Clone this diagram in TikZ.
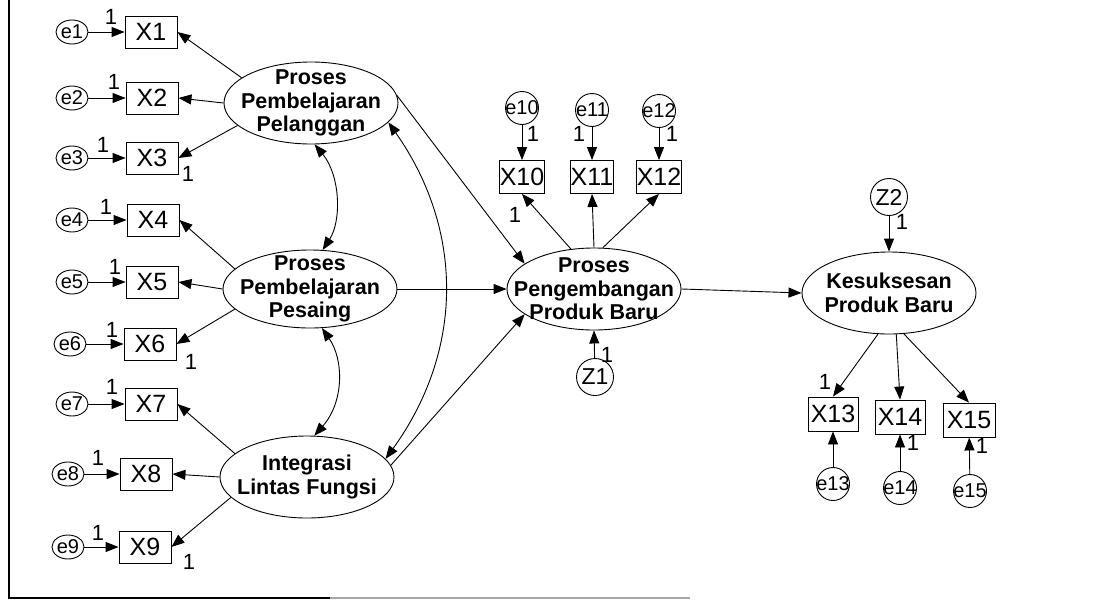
\documentclass[tikz,border=0pt]{standalone}
\usepackage{fontspec}
\setmainfont{Liberation Sans}
\usetikzlibrary{shapes.geometric,arrows.meta}

\begin{document}
\begin{tikzpicture}[x=1pt,y=-1pt,
  line width=0.9pt,
  >={Triangle[length=13pt,width=10pt]},
  latent/.style={draw, ellipse, minimum width=174pt, minimum height=82pt,
    inner xsep=-22pt, inner ysep=-9pt, align=center,
    font=\fontsize{21.5}{23.5}\selectfont\bfseries},
  obs/.style={draw, rectangle, minimum width=52pt, minimum height=32pt,
    inner sep=0pt, font=\fontsize{25}{25}\selectfont},
  err/.style={draw, ellipse, minimum width=32pt, minimum height=24pt,
    inner sep=-3pt, font=\fontsize{20}{20}\selectfont},
  errc/.style={draw, circle, minimum size=33pt, inner sep=-4pt,
    font=\fontsize{20}{20}\selectfont},
  dist/.style={draw, circle, minimum size=37pt, inner sep=0pt,
    font=\fontsize{23}{23}\selectfont},
  one/.style={font=\fontsize{22}{22}\selectfont, inner sep=0pt},
  reg/.style={->},
  cov/.style={<->},
]
\useasboundingbox (0,0) rectangle (1110,608);

% frame
\draw[line width=1.3pt] (9,0) -- (9,598) -- (330,598);
\draw[line width=1.3pt, black!35] (330,598) -- (690,598);

% latent variables
\node[latent] (ppp) at (311,103) {Proses\\Pembelajaran\\Pelanggan};
\node[latent, minimum height=78pt] (ppes) at (310,289) {Proses\\Pembelajaran\\Pesaing};
\node[latent] (intlf) at (307,477) {Integrasi\\Lintas Fungsi};
\node[latent] (ppb) at (594,289) {Proses\\Pengembangan\\Produk Baru};
\node[latent] (kpb) at (889,293) {Kesuksesan\\Produk Baru};

% left indicators and their errors
\node[obs] (x1) at (151,32) {X1};   \node[err] (e1) at (72,32) {e1};
\node[obs] (x2) at (152,98) {X2};   \node[err] (e2) at (72,98) {e2};
\node[obs] (x3) at (152,158) {X3};  \node[err] (e3) at (72,158) {e3};
\node[obs] (x4) at (153,220) {X4};  \node[err] (e4) at (72,220) {e4};
\node[obs] (x5) at (152,282) {X5};  \node[err] (e5) at (72,282) {e5};
\node[obs] (x6) at (150,344) {X6};  \node[err] (e6) at (70,344) {e6};
\node[obs] (x7) at (151,404) {X7};  \node[err] (e7) at (72,404) {e7};
\node[obs] (x8) at (146,474) {X8};  \node[err] (e8) at (68,474) {e8};
\node[obs] (x9) at (145,547) {X9};  \node[err] (e9) at (68,547) {e9};

% indicators of product development
\node[obs, minimum width=42pt, minimum height=33pt] (x10) at (522,177) {X10};
\node[obs, minimum width=42pt, minimum height=33pt] (x11) at (592,177) {X11};
\node[obs, minimum width=42pt, minimum height=33pt] (x12) at (659,177) {X12};
\node[errc] (e10) at (522,108) {e10};
\node[errc] (e11) at (592,110) {e11};
\node[errc] (e12) at (659,111) {e12};

% indicators of new product success
\node[obs, minimum width=50pt, minimum height=34pt] (x13) at (833,414) {X13};
\node[obs, minimum width=50pt, minimum height=34pt] (x14) at (900,417) {X14};
\node[obs, minimum width=52pt, minimum height=34pt] (x15) at (969,420) {X15};
\node[errc] (e13) at (833,484) {e13};
\node[errc] (e14) at (900,488) {e14};
\node[errc] (e15) at (970,491) {e15};

% disturbances
\node[dist] (z1) at (595,377) {Z1};
\node[dist] (z2) at (889,197) {Z2};

% error paths
\foreach \i in {1,...,9} \draw[reg] (e\i) -- (x\i);
\foreach \i in {10,11,12} \draw[reg] (e\i) -- (x\i);
\foreach \i in {13,14,15} \draw[reg] (e\i) -- (x\i);
\draw[reg] (z1) -- (ppb.south);
\draw[reg] (z2) -- (kpb.north);

% loadings
\draw[reg] (ppp.160) -- (x1.east);
\draw[reg] (ppp.west) -- (x2.east);
\draw[reg] (ppp.197) -- (x3.east);
\draw[reg] (ppes.165) -- (x4.east);
\draw[reg] (ppes.west) -- (x5.east);
\draw[reg] (ppes.195) -- (x6.east);
\draw[reg] (intlf.162) -- (x7.east);
\draw[reg] (intlf.west) -- (x8.east);
\draw[reg] (intlf.195) -- (x9.east);
\draw[reg] (ppb.120) -- (x10.south);
\draw[reg] (ppb.north) -- (x11.south);
\draw[reg] (ppb.78) -- (x12.south);
\draw[reg] (kpb.255) -- (x13.north);
\draw[reg] (kpb.280) -- (x14.north);
\draw[reg] (kpb.290) -- (x15.north);

% structural paths
\draw[reg] (ppp.5) -- (ppb.160);
\draw[reg] (ppes.east) -- (ppb.west);
\draw[reg] (intlf.8) -- (ppb.200);
\draw[reg] (ppb.east) -- (kpb.west);

% covariances
\draw[cov] (ppp.275) .. controls (340,175) and (342,220) .. (ppes.72);
\draw[cov] (ppes.287) .. controls (344,360) and (344,402) .. (intlf.80);
\draw[cov] (ppp.346) .. controls (464,230) and (464,350) .. (intlf.13);

% fixed parameters
\node[one] (l1) at (111,17) {1};
\node[one] (l2) at (114,82) {1};
\node[one] (l3) at (103,145) {1};
\node[one] (l3b) at (188,174) {1};
\node[one] (l4) at (106,207) {1};
\node[one] (l5) at (115,267) {1};
\node[one] (l6) at (112,330) {1};
\node[one] (l6b) at (191,362) {1};
\node[one] (l7) at (112,387) {1};
\node[one] (l8) at (98,458) {1};
\node[one] (l9) at (98,533) {1};
\node[one] (l9b) at (189,562) {1};
\node[one] (l10) at (533,134) {1};
\node[one] (l11) at (579,134) {1};
\node[one] (l12) at (672,134) {1};
\node[one] (l10b) at (515,215) {1};
\node[one] (lz1) at (607,355) {1};
\node[one] (lz2) at (902,222) {1};
\node[one] (l13) at (825,382) {1};
\node[one] (l14) at (913,443) {1};
\node[one] (l15) at (982,446) {1};
\end{tikzpicture}
\end{document}
